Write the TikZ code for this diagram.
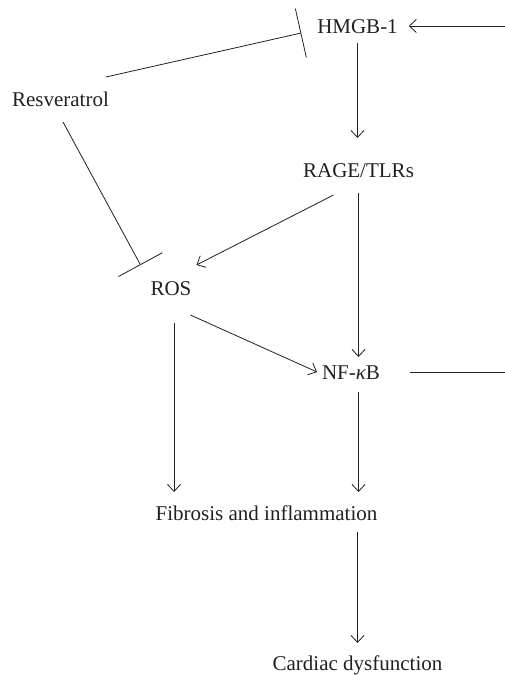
\documentclass[tikz,border=0pt]{standalone}
\usepackage{fontspec}
\setmainfont{Liberation Serif}
\usetikzlibrary{arrows.meta,calc}
\definecolor{ink}{HTML}{231F20}
\tikzset{
  lbl/.style={inner sep=0pt, outer sep=0pt, text height=14pt, text depth=0pt, text=ink, font=\fontsize{21}{25}\selectfont, anchor=base},
  conn/.style={draw=ink, line width=0.8pt},
  arr/.style={conn, -{Straight Barb[length=7pt,width=13pt]}},
  inh/.style={conn, -{Bar[width=50pt]}}
}
\begin{document}
\begin{tikzpicture}[x=1pt,y=-1pt]
\path[use as bounding box] (0,0) rectangle (505,675);
\node[lbl] (hmgb) at (357.5,33) {HMGB-1};
\node[lbl] (resv) at (60.5,106) {Resveratrol};
\node[lbl] (rage) at (358.5,177) {RAGE/TLRs};
\node[lbl] (ros) at (171,295) {ROS};
\node[lbl] (nfkb) at (351,379) {NF-{\itshape κ}B};
\node[lbl] (fib) at (266.5,520) {Fibrosis and inflammation};
\node[lbl] (card) at (357.5,670) {Cardiac dysfunction};
\coordinate (fbin) at (505,26);
\coordinate (fbout) at (505,372);
% feedback
\draw[arr, shorten >=11pt] (fbin) -- (hmgb.east);
\draw[conn] ($(nfkb.east)+(30,0)$) -- (fbout |- nfkb.east);
% main column
\draw[arr, shorten <=10pt, shorten >=25pt] (hmgb.south) -- (hmgb.south |- rage.north);
\draw[arr, shorten <=16pt, shorten >=8pt] (rage.south) -- (rage.south |- nfkb.north);
\draw[arr, shorten <=13pt, shorten >=14pt] (nfkb.south -| rage.south) -- (fib.north -| rage.south);
\draw[arr, shorten <=28pt, shorten >=14pt] ([xshift=3pt]ros.south) -- ([xshift=3pt]ros.south |- fib.north);
\draw[arr, shorten <=12pt, shorten >=13pt] (fib.south -| card.north) -- (card.north);
% diagonals
\draw[inh] ($(resv.north east)+(-3,-15)$) -- ($(hmgb.south west)+(-16,0)$);
\draw[inh] ($(resv.south)+(2.5,16)$) -- ($(ros.north west)+(-10,-16)$);
\draw[arr] ($(rage.south)+(-25,18)$) -- ($(ros.north east)+(5,-16)$);
\draw[arr] ($(ros.south east)+(-1,20)$) -- ($(nfkb.west)+(-5,0)$);
\end{tikzpicture}
\end{document}
